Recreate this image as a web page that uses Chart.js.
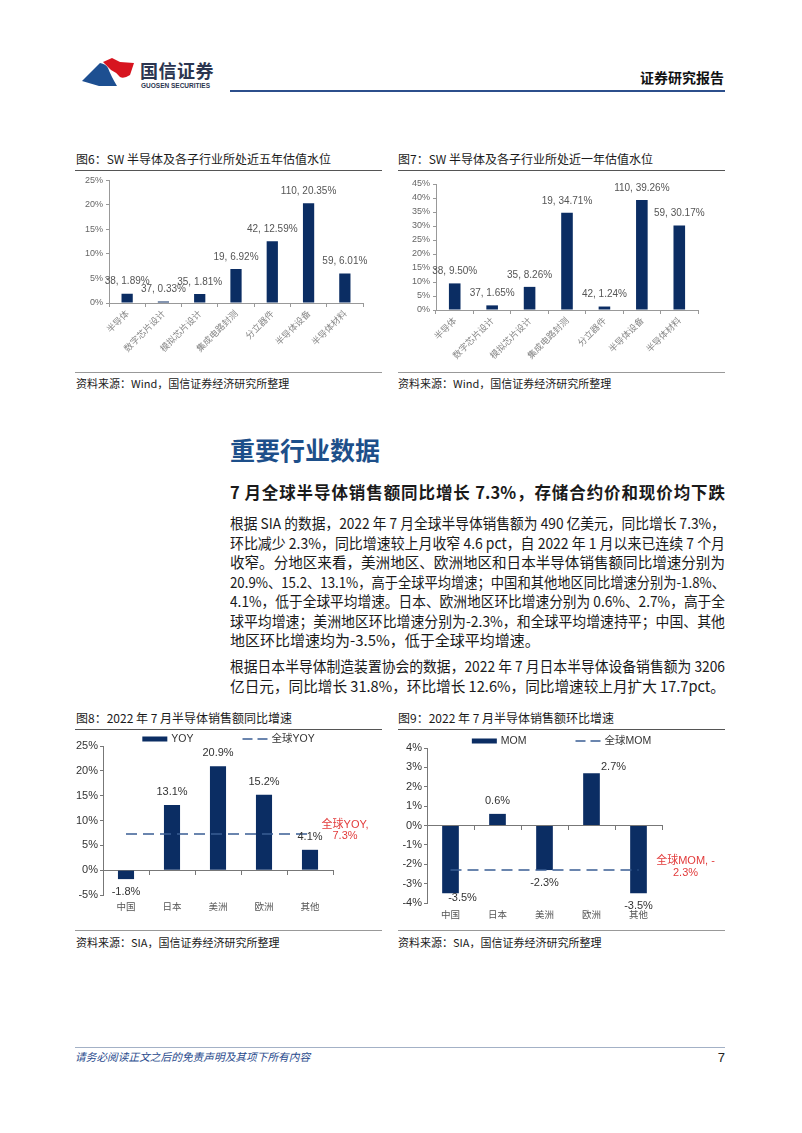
<!DOCTYPE html>
<html>
<head>
<meta charset="utf-8">
<script src="https://cdn.jsdelivr.net/npm/chart.js@4.4.0/dist/chart.umd.min.js"></script>
<style>
  html, body { margin: 0; padding: 0; background: #fff; }
  #page { position: relative; width: 802px; height: 1133px; overflow: hidden;
    font-family: "Noto Sans CJK SC", sans-serif; color: #1a1a1a; }
  .abs { position: absolute; white-space: nowrap; }
  .fig-title { font-size: 12px; line-height: 16px; }
  .rule-top { position: absolute; height: 0; border-top: 1.5px solid #555; }
  .rule-bot { position: absolute; height: 0; border-top: 1px solid #999; }
  .src { font-size: 11px; line-height: 14px; }
  .box { position: absolute; }
  .jl { position: absolute; left: 230px; width: 495px; font-size: 15px; line-height: 19.5px;
    white-space: nowrap; text-align: justify; text-align-last: justify;
    font-family: "Liberation Sans Narrow", "Noto Sans CJK SC", sans-serif; }
  .jl.last { text-align-last: left; }
</style>
</head>
<body>
<div id="page">
  <!-- header -->
  <svg class="abs" style="left:78px;top:56px" width="62" height="38" viewBox="0 0 62 38">
    <path d="M4 25 L22 7 Q28 8 30 12 Q33 20 39 30 L21 30 Z" fill="#1d4f91"/>
    <path d="M25 6 L34 2 L42 6 L56 7 L52 19 Q46 23 42 21 Q38 16 33 14 Z" fill="#d7141f"/>
  </svg>
  <div class="abs" style="left:140px;top:58px;font-size:18px;line-height:24px;font-weight:bold;color:#2b3550;letter-spacing:0.5px">国信证券</div>
  <div class="abs" style="left:141px;top:82px;font-size:6.5px;line-height:8px;font-weight:bold;color:#2b3550;font-family:'Liberation Sans',sans-serif">GUOSEN SECURITIES</div>
  <div class="abs" style="left:640px;top:67px;font-size:14px;line-height:20px;font-weight:bold;color:#111">证券研究报告</div>
  <div class="abs" style="left:230px;top:90px;width:495px;height:2px;background:#2c4f8c"></div>

  <!-- figure 6 -->
  <div class="abs fig-title" style="left:76px;top:151px">图6：SW 半导体及各子行业所处近五年估值水位</div>
  <div class="rule-top" style="left:75px;top:170px;width:307px"></div>
  <div class="box" style="left:75px;top:172px;width:300px;height:196px"><canvas id="fig6"></canvas></div>
  <div class="rule-bot" style="left:75px;top:372px;width:307px"></div>
  <div class="abs src" style="left:76px;top:376px">资料来源：Wind，国信证券经济研究所整理</div>

  <!-- figure 7 -->
  <div class="abs fig-title" style="left:398px;top:151px">图7：SW 半导体及各子行业所处近一年估值水位</div>
  <div class="rule-top" style="left:398px;top:170px;width:327px"></div>
  <div class="box" style="left:398px;top:172px;width:327px;height:196px"><canvas id="fig7"></canvas></div>
  <div class="rule-bot" style="left:398px;top:372px;width:327px"></div>
  <div class="abs src" style="left:398px;top:376px">资料来源：Wind，国信证券经济研究所整理</div>

  <!-- text section -->
  <div class="abs" style="left:230px;top:434px;font-size:25px;line-height:30px;font-weight:bold;color:#1d4f8a">重要行业数据</div>
  <div class="jl" style="top:481px;font-size:16.5px;line-height:22px;font-weight:bold;font-family:'Noto Sans CJK SC',sans-serif">7 月全球半导体销售额同比增长 7.3%，存储合约价和现价均下跌</div>

  <div class="jl" style="top:513px">根据 SIA 的数据，2022 年 7 月全球半导体销售额为 490 亿美元，同比增长 7.3%，</div>
  <div class="jl" style="top:533px">环比减少 2.3%，同比增速较上月收窄 4.6 pct，自 2022 年 1 月以来已连续 7 个月</div>
  <div class="jl" style="top:552px">收窄。分地区来看，美洲地区、欧洲地区和日本半导体销售额同比增速分别为</div>
  <div class="jl" style="top:572px">20.9%、15.2、13.1%，高于全球平均增速；中国和其他地区同比增速分别为-1.8%、</div>
  <div class="jl" style="top:591px">4.1%，低于全球平均增速。日本、欧洲地区环比增速分别为 0.6%、2.7%，高于全</div>
  <div class="jl" style="top:611px">球平均增速；美洲地区环比增速分别为-2.3%，和全球平均增速持平；中国、其他</div>
  <div class="jl last" style="top:630px">地区环比增速均为-3.5%，低于全球平均增速。</div>

  <div class="jl" style="top:656px">根据日本半导体制造装置协会的数据，2022 年 7 月日本半导体设备销售额为 3206</div>
  <div class="jl last" style="top:676px">亿日元，同比增长 31.8%，环比增长 12.6%，同比增速较上月扩大 17.7pct。</div>

  <!-- figure 8 -->
  <div class="abs fig-title" style="left:76px;top:710px">图8：2022 年 7 月半导体销售额同比增速</div>
  <div class="rule-top" style="left:75px;top:729px;width:307px"></div>
  <div class="box" style="left:75px;top:731px;width:307px;height:196px"><canvas id="fig8"></canvas></div>
  <div class="rule-bot" style="left:75px;top:930px;width:307px"></div>
  <div class="abs src" style="left:76px;top:935px">资料来源：SIA，国信证券经济研究所整理</div>

  <!-- figure 9 -->
  <div class="abs fig-title" style="left:398px;top:710px">图9：2022 年 7 月半导体销售额环比增速</div>
  <div class="rule-top" style="left:398px;top:729px;width:327px"></div>
  <div class="box" style="left:398px;top:731px;width:327px;height:196px"><canvas id="fig9"></canvas></div>
  <div class="rule-bot" style="left:398px;top:930px;width:327px"></div>
  <div class="abs src" style="left:398px;top:935px">资料来源：SIA，国信证券经济研究所整理</div>

  <!-- footer -->
  <div class="abs" style="left:75px;top:1047px;width:650px;height:1px;background:#a3b1c6"></div>
  <div class="abs" style="left:75px;top:1050px;font-size:10.7px;line-height:14px;font-style:italic;color:#2a4b8d">请务必阅读正文之后的免责声明及其项下所有内容</div>
  <div class="abs" style="left:700px;top:1050px;width:25px;text-align:right;font-size:13px;line-height:16px;color:#222;font-family:'Liberation Sans',sans-serif">7</div>
</div>

<script>
// ---- data ----
const subSectors = ['半导体', '数字芯片设计', '模拟芯片设计', '集成电路封测', '分立器件', '半导体设备', '半导体材料'];
const sectorCodes = [38, 37, 35, 19, 42, 110, 59];
const fiveYearPct = [1.89, 0.33, 1.81, 6.92, 12.59, 20.35, 6.01];
const oneYearPct = [9.50, 1.65, 8.26, 34.71, 1.24, 39.26, 30.17];

const regions = ['中国', '日本', '美洲', '欧洲', '其他'];
const yoyPct = [-1.8, 13.1, 20.9, 15.2, 4.1];
const yoyGlobal = [7.3, 7.3, 7.3, 7.3, 7.3];
const momPct = [-3.5, 0.6, -2.3, 2.7, -3.5];
const momGlobal = [-2.3, -2.3, -2.3, -2.3, -2.3];

const navy = '#0b2d63';
const dashBlue = '#3a5d94';
const noteRed = '#e23b3b';

Chart.defaults.font.family = '"Liberation Sans", Arial, "Noto Sans CJK SC", sans-serif';
Chart.defaults.animation = false;

// fit justified text lines that run long
document.querySelectorAll('.jl').forEach(el => {
  const s = document.createElement('span');
  s.textContent = el.textContent;
  el.textContent = '';
  el.appendChild(s);
  const w = s.getBoundingClientRect().width;
  const W = el.clientWidth;
  if (w > W) {
    s.style.display = 'inline-block';
    s.style.transformOrigin = '0 0';
    s.style.transform = `scaleX(${W / w})`;
  } else {
    el.textContent = s.textContent;
  }
});

const fixWidth = w => scale => { scale.width = w; };
const fixHeight = h => scale => { scale.height = h; };

// value labels above / below bars
const barLabels = {
  id: 'barLabels',
  afterDatasetsDraw(chart, args, o) {
    if (!o.texts) return;
    const { ctx } = chart;
    const values = chart.data.datasets[0].data;
    ctx.save();
    ctx.font = o.font;
    ctx.fillStyle = o.color;
    ctx.textAlign = 'center';
    ctx.textBaseline = 'middle';
    chart.getDatasetMeta(0).data.forEach((bar, i) => {
      const n = (o.nudge && o.nudge[i]) || [0, 0];
      const y = values[i] >= 0 ? bar.y - o.offset : bar.y + o.offset;
      ctx.fillText(o.texts[i], bar.x + n[0], y + n[1]);
    });
    ctx.restore();
  }
};

// legend row: bar swatch + dashed line swatch
const keyRow = {
  id: 'keyRow',
  afterDraw(chart, args, o) {
    if (!o.y) return;
    const { ctx } = chart;
    const ds = chart.data.datasets;
    ctx.save();
    ctx.font = o.font;
    const items = [ds[0], ds[1]];
    const widths = items.map(d => 25 + 4 + ctx.measureText(d.label).width);
    let x = chart.width / 2 - (widths[0] + widths[1] + o.gap) / 2;
    items.forEach((d, i) => {
      if (i === 0) {
        ctx.fillStyle = d.backgroundColor;
        ctx.fillRect(x, o.y - 2.5, 25, 5);
      } else {
        ctx.strokeStyle = d.borderColor;
        ctx.lineWidth = 1.5;
        ctx.setLineDash([10, 5]);
        ctx.beginPath();
        ctx.moveTo(x, o.y);
        ctx.lineTo(x + 25, o.y);
        ctx.stroke();
        ctx.setLineDash([]);
      }
      ctx.fillStyle = '#333';
      ctx.textAlign = 'left';
      ctx.textBaseline = 'middle';
      ctx.fillText(d.label, x + 29, o.y);
      x += widths[i] + o.gap;
    });
    ctx.restore();
  }
};

// red note at the end of the global line
const lineNote = {
  id: 'lineNote',
  afterDatasetsDraw(chart, args, o) {
    if (!o.lines) return;
    const { ctx } = chart;
    const pts = chart.getDatasetMeta(1).data;
    const p = pts[pts.length - 1];
    ctx.save();
    ctx.font = '11px "Liberation Sans", "Noto Sans CJK SC", sans-serif';
    ctx.fillStyle = noteRed;
    ctx.textAlign = 'center';
    ctx.textBaseline = 'middle';
    o.lines.forEach((t, i) => ctx.fillText(t, p.x + o.dx, p.y + o.dy + i * 11.5));
    ctx.restore();
  }
};

function valuationChart(id, values, maxY, box) {
  new Chart(document.getElementById(id), {
    type: 'bar',
    data: {
      labels: subSectors,
      datasets: [{ data: values, backgroundColor: navy, barPercentage: 0.31, categoryPercentage: 1 }],
    },
    options: {
      responsive: true, maintainAspectRatio: false,
      layout: { padding: { top: box.top, right: box.right, left: 0, bottom: 0 } },
      plugins: {
        legend: { display: false }, tooltip: { enabled: false },
        barLabels: {
          texts: values.map((v, i) => `${sectorCodes[i]}, ${v.toFixed(2)}%`),
          font: '10px "Liberation Sans", Arial, sans-serif', color: '#555', offset: 12,
        },
      },
      scales: {
        x: {
          afterFit: fixHeight(box.xh),
          border: { color: '#999' },
          grid: { drawOnChartArea: false, tickLength: 4, color: '#999' },
          ticks: { autoSkip: false, minRotation: 45, maxRotation: 45, padding: 1, color: '#888',
            font: { family: '"Noto Sans CJK SC", sans-serif', size: 9 } },
        },
        y: {
          min: 0, max: maxY,
          afterFit: fixWidth(box.yw),
          border: { color: '#999' },
          grid: { drawOnChartArea: false, tickLength: 3, color: '#999' },
          ticks: { stepSize: 5, autoSkip: false, padding: 3, color: '#666', font: { size: 9 }, callback: v => v + '%' },
        },
      },
    },
    plugins: [barLabels],
  });
}

function regionChart(id, values, globalVals, cfg) {
  new Chart(document.getElementById(id), {
    type: 'bar',
    data: {
      labels: regions,
      datasets: [
        { label: cfg.barLabel, data: values, backgroundColor: navy, barPercentage: cfg.barPct, categoryPercentage: 1, order: 1 },
        { type: 'line', label: cfg.lineLabel, data: globalVals, borderColor: dashBlue, borderWidth: 1.5,
          borderDash: [11, 6], pointRadius: 0, fill: false, order: 0 },
      ],
    },
    options: {
      responsive: true, maintainAspectRatio: false,
      layout: { padding: { top: cfg.top, right: cfg.right, left: 0, bottom: 0 } },
      plugins: {
        legend: { display: false }, tooltip: { enabled: false },
        barLabels: {
          texts: values.map(v => v.toFixed(1) + '%'),
          font: '11px "Liberation Sans", Arial, sans-serif', color: '#333', offset: 13, nudge: cfg.nudge,
        },
        keyRow: { y: cfg.keyY, gap: 49, font: '10.5px "Liberation Sans", "Noto Sans CJK SC", sans-serif' },
        lineNote: { lines: cfg.note, dx: cfg.noteDx, dy: -9 },
      },
      scales: {
        x: {
          afterFit: fixHeight(cfg.xh),
          border: { display: false },
          grid: { display: false, drawTicks: false },
          ticks: { padding: 6, color: '#555', font: { family: '"Noto Sans CJK SC", sans-serif', size: 9.5 } },
        },
        x0: {
          type: 'category', axis: 'x', position: { y: 0 }, offset: true,
          border: { color: '#777' },
          grid: { offset: true, drawOnChartArea: false, tickLength: 4, color: '#777' },
          ticks: { display: false },
        },
        y: {
          min: cfg.min, max: cfg.max,
          afterFit: fixWidth(cfg.yw),
          border: { color: '#777' },
          grid: { drawOnChartArea: false, tickLength: 3, color: '#777' },
          ticks: { stepSize: cfg.step, autoSkip: false, padding: 2, color: '#333', font: { size: 11 }, callback: v => v + '%' },
        },
      },
    },
    plugins: [barLabels, keyRow, lineNote],
  });
}

valuationChart('fig6', fiveYearPct, 25, { top: 7, right: 12, yw: 34, xh: 65 });
valuationChart('fig7', oneYearPct, 45, { top: 12, right: 27, yw: 38, xh: 58 });

regionChart('fig8', yoyPct, yoyGlobal, {
  barLabel: 'YOY', lineLabel: '全球YOY', barPct: 0.35,
  min: -5, max: 25, step: 5, top: 15, right: 49, yw: 28, xh: 32, keyY: 8,
  note: ['全球YOY,', '7.3%'], noteDx: 35,
});
regionChart('fig9', momPct, momGlobal, {
  barLabel: 'MOM', lineLabel: '全球MOM', barPct: 0.355,
  min: -4, max: 4, step: 1, top: 17, right: 63, yw: 29, xh: 24, keyY: 10,
  note: ['全球MOM, -', '2.3%'], noteDx: 47,
  nudge: [[12, -8.5], [0, 0], [0, 0], [22, 7], [0, 0]],
});
</script>
</body>
</html>
